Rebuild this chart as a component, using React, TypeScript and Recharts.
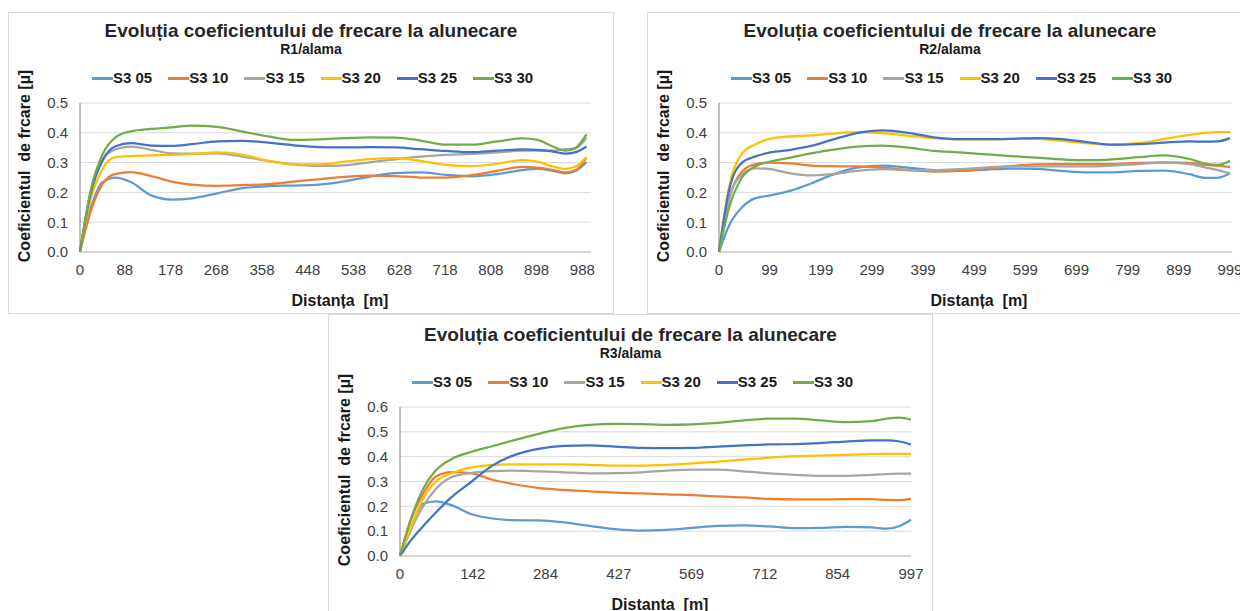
import React from 'react';
import { LineChart, Line, XAxis, YAxis, CartesianGrid, Legend } from 'recharts';

const SERIES = ['S3 05', 'S3 10', 'S3 15', 'S3 20', 'S3 25', 'S3 30'];
const COLORS = ['#5B9BD5', '#ED7D31', '#A5A5A5', '#FFC000', '#4472C4', '#70AD47'];

// R1/alama
const r1Dist = [0, 20, 45, 70, 100, 140, 180, 220, 270, 320, 370, 420, 470, 520, 570, 620, 670, 720, 770, 820, 870, 900, 930, 955, 975, 996];
const r1S305 = [0, 0.14, 0.235, 0.25, 0.235, 0.19, 0.176, 0.18, 0.197, 0.214, 0.221, 0.223, 0.226, 0.237, 0.253, 0.265, 0.267, 0.259, 0.254, 0.261, 0.275, 0.279, 0.272, 0.264, 0.272, 0.301];
const r1S310 = [0, 0.13, 0.23, 0.262, 0.268, 0.255, 0.236, 0.226, 0.222, 0.224, 0.228, 0.236, 0.244, 0.252, 0.256, 0.255, 0.25, 0.25, 0.258, 0.272, 0.286, 0.283, 0.275, 0.267, 0.275, 0.315];
const r1S315 = [0, 0.19, 0.31, 0.345, 0.354, 0.343, 0.331, 0.33, 0.331, 0.32, 0.306, 0.294, 0.289, 0.291, 0.301, 0.311, 0.32, 0.326, 0.329, 0.334, 0.34, 0.34, 0.34, 0.345, 0.348, 0.384];
const r1S320 = [0, 0.17, 0.28, 0.318, 0.322, 0.324, 0.326, 0.329, 0.334, 0.326, 0.306, 0.294, 0.294, 0.303, 0.312, 0.315, 0.306, 0.292, 0.288, 0.296, 0.308, 0.303, 0.287, 0.279, 0.287, 0.319];
const r1S325 = [0, 0.19, 0.31, 0.355, 0.365, 0.357, 0.356, 0.362, 0.371, 0.373, 0.367, 0.358, 0.352, 0.351, 0.352, 0.351, 0.345, 0.339, 0.335, 0.34, 0.344, 0.343, 0.337, 0.33, 0.335, 0.354];
const r1S330 = [0, 0.2, 0.33, 0.385, 0.405, 0.413, 0.418, 0.424, 0.42, 0.404, 0.388, 0.376, 0.378, 0.382, 0.385, 0.384, 0.374, 0.36, 0.36, 0.371, 0.381, 0.376, 0.354, 0.34, 0.35, 0.395];

// R2/alama
const r2Dist = [0, 20, 45, 70, 100, 140, 180, 220, 270, 320, 370, 420, 470, 520, 570, 620, 670, 720, 770, 820, 870, 920, 950, 975, 999];
const r2S305 = [0, 0.09, 0.15, 0.18, 0.19, 0.206, 0.23, 0.258, 0.283, 0.29, 0.283, 0.275, 0.273, 0.276, 0.28, 0.279, 0.272, 0.267, 0.267, 0.272, 0.273, 0.261, 0.249, 0.249, 0.264];
const r2S310 = [0, 0.18, 0.27, 0.294, 0.3, 0.297, 0.29, 0.288, 0.287, 0.283, 0.275, 0.27, 0.272, 0.279, 0.288, 0.294, 0.295, 0.295, 0.295, 0.299, 0.301, 0.299, 0.292, 0.29, 0.285];
const r2S315 = [0, 0.18, 0.26, 0.281, 0.278, 0.264, 0.257, 0.261, 0.272, 0.278, 0.275, 0.275, 0.278, 0.283, 0.287, 0.287, 0.287, 0.287, 0.29, 0.295, 0.3, 0.295, 0.284, 0.275, 0.264];
const r2S320 = [0, 0.22, 0.33, 0.36, 0.38, 0.388, 0.391, 0.397, 0.402, 0.399, 0.39, 0.382, 0.378, 0.378, 0.38, 0.38, 0.373, 0.365, 0.36, 0.365, 0.379, 0.393, 0.4, 0.402, 0.402];
const r2S325 = [0, 0.21, 0.3, 0.32, 0.334, 0.343, 0.356, 0.376, 0.399, 0.408, 0.4, 0.385, 0.379, 0.379, 0.38, 0.382, 0.379, 0.369, 0.36, 0.362, 0.367, 0.371, 0.37, 0.371, 0.382];
const r2S330 = [0, 0.15, 0.25, 0.287, 0.303, 0.317, 0.331, 0.343, 0.354, 0.357, 0.35, 0.339, 0.334, 0.328, 0.322, 0.317, 0.311, 0.308, 0.311, 0.318, 0.324, 0.312, 0.297, 0.292, 0.306];

// R3/alama
const r3Dist = [0, 20, 45, 70, 100, 140, 180, 220, 270, 320, 370, 420, 470, 520, 570, 620, 670, 720, 770, 820, 870, 920, 950, 975, 997];
const r3S305 = [0, 0.11, 0.21, 0.22, 0.205, 0.168, 0.151, 0.144, 0.143, 0.135, 0.121, 0.108, 0.102, 0.105, 0.113, 0.121, 0.123, 0.119, 0.112, 0.113, 0.117, 0.115, 0.11, 0.121, 0.146];
const r3S310 = [0, 0.14, 0.25, 0.32, 0.338, 0.333, 0.307, 0.29, 0.274, 0.266, 0.26, 0.255, 0.252, 0.248, 0.245, 0.24, 0.236, 0.23, 0.228, 0.228, 0.229, 0.229, 0.226, 0.225, 0.23];
const r3S315 = [0, 0.1, 0.2, 0.27, 0.317, 0.335, 0.342, 0.344, 0.341, 0.337, 0.333, 0.334, 0.337, 0.344, 0.348, 0.348, 0.341, 0.333, 0.327, 0.323, 0.323, 0.327, 0.33, 0.332, 0.332];
const r3S320 = [0, 0.11, 0.23, 0.3, 0.333, 0.357, 0.367, 0.369, 0.369, 0.369, 0.367, 0.364, 0.364, 0.367, 0.373, 0.38, 0.388, 0.396, 0.402, 0.404, 0.407, 0.41, 0.411, 0.411, 0.411];
const r3S325 = [0, 0.06, 0.12, 0.175, 0.236, 0.3, 0.364, 0.404, 0.431, 0.443, 0.445, 0.44, 0.435, 0.434, 0.435, 0.44, 0.445, 0.449, 0.451, 0.455, 0.461, 0.466, 0.466, 0.461, 0.449];
const r3S330 = [0, 0.14, 0.27, 0.345, 0.39, 0.42, 0.442, 0.465, 0.492, 0.515, 0.528, 0.532, 0.531, 0.528, 0.53, 0.536, 0.546, 0.553, 0.553, 0.546, 0.539, 0.543, 0.553, 0.557, 0.549];

const r1Ticks = [0, 88, 178, 268, 358, 448, 538, 628, 718, 808, 898, 988];
const r2Ticks = [0, 99, 199, 299, 399, 499, 599, 699, 799, 899, 999];
const r3Ticks = [0, 142, 284, 427, 569, 712, 854, 997];
const yTicks5 = [0, 0.1, 0.2, 0.3, 0.4, 0.5];
const yTicks6 = [0, 0.1, 0.2, 0.3, 0.4, 0.5, 0.6];

const TITLE = 'Evoluția coeficientului de frecare la alunecare';
const Y_LABEL = 'Coeficientul\u00a0 de frcare [µ]';

function buildRows(dist: number[], cols: number[][]) {
  return dist.map((d, i) => {
    const row: any = { d };
    SERIES.forEach((s, k) => {
      row[s] = cols[k][i];
    });
    return row;
  });
}

const renderLegend = (props: any) => {
  const { payload } = props;
  return (
    <div style={{ display: 'flex', paddingLeft: 84, height: 20, alignItems: 'center' }}>
      {(payload || []).map((p: any) => (
        <div key={p.value} style={{ display: 'flex', alignItems: 'center', marginRight: 16 }}>
          <span style={{ display: 'inline-block', width: 21, height: 3, background: p.color }} />
          <span style={{ fontWeight: 'bold', fontSize: 15, color: '#1a1a1a', lineHeight: '20px' }}>{p.value}</span>
        </div>
      ))}
    </div>
  );
};

interface PanelProps {
  left: number;
  top: number;
  width: number;
  height: number;
  shift?: number;
  subtitle: string;
  xLabel: string;
  data: any[];
  xMax: number;
  xTicks: number[];
  yMax: number;
  yTicks: number[];
  marginRight: number;
}

const Panel: React.FC<PanelProps> = ({ left, top, width, height, shift = 0, subtitle, xLabel, data, xMax, xTicks, yMax, yTicks, marginRight }) => {
  return (
    <div style={{ position: 'absolute', left, top, width, height }}>
      <div
        style={{
          position: 'absolute', left: 0, top: -shift, width, height: height + shift,
          border: '1px solid #d9d9d9', boxSizing: 'border-box',
        }}
      />
      <div style={{ position: 'absolute', left: 0, top: 0 }}>
        <LineChart width={width} height={height} data={data} margin={{ top: 91, right: marginRight, bottom: 32, left: 12 }}>
          <CartesianGrid vertical={false} stroke="#d9d9d9" />
          <XAxis
            dataKey="d"
            type="number"
            domain={[0, xMax]}
            ticks={xTicks}
            interval={0}
            tickLine={false}
            axisLine={{ stroke: '#bfbfbf' }}
            tick={{ fill: '#404040', fontSize: 15 }}
            tickMargin={6}
            height={30}
          />
          <YAxis
            domain={[0, yMax]}
            ticks={yTicks}
            tickFormatter={(v: number) => v.toFixed(1)}
            tickLine={false}
            axisLine={{ stroke: '#7f7f7f' }}
            tick={{ fill: '#404040', fontSize: 15 }}
            tickMargin={6}
            width={60}
          />
          <Legend
            verticalAlign="middle"
            align="center"
            layout="horizontal"
            content={renderLegend}
            wrapperStyle={{ top: 56, left: 0, width, height: 20 }}
          />
          {SERIES.map((s, k) => (
            <Line
              key={s}
              type="monotone"
              dataKey={s}
              stroke={COLORS[k]}
              strokeWidth={2.25}
              dot={false}
              isAnimationActive={false}
            />
          ))}
        </LineChart>
      </div>
      <div style={{ position: 'absolute', left: 0, top: 9, width, textAlign: 'center', fontSize: 19, lineHeight: '19px', fontWeight: 'bold', color: '#262626', whiteSpace: 'nowrap' }}>
        {TITLE}
      </div>
      <div style={{ position: 'absolute', left: 0, top: 30, width, textAlign: 'center', fontSize: 14, lineHeight: '14px', fontWeight: 'bold', color: '#1a1a1a' }}>
        {subtitle}
      </div>
      <div
        style={{
          position: 'absolute', left: 16.5, top: 154, transform: 'translate(-50%, -50%) rotate(-90deg)',
          whiteSpace: 'nowrap', fontSize: 16, lineHeight: '16px', fontWeight: 'bold', color: '#1a1a1a',
        }}
      >
        {Y_LABEL}
      </div>
      <div
        style={{
          position: 'absolute', left: 332, top: 281, transform: 'translateX(-50%)',
          whiteSpace: 'nowrap', fontSize: 16, lineHeight: '16px', fontWeight: 'bold', color: '#1a1a1a',
        }}
      >
        {xLabel}
      </div>
    </div>
  );
};

export default function App() {
  const r1Data = buildRows(r1Dist, [r1S305, r1S310, r1S315, r1S320, r1S325, r1S330]);
  const r2Data = buildRows(r2Dist, [r2S305, r2S310, r2S315, r2S320, r2S325, r2S330]);
  const r3Data = buildRows(r3Dist, [r3S305, r3S310, r3S315, r3S320, r3S325, r3S330]);

  return (
    <div
      style={{
        position: 'absolute', left: 0, top: 0, width: 1240, height: 611, overflow: 'hidden',
        background: '#fff', fontFamily: '"Liberation Sans", Arial, sans-serif',
      }}
    >
      <Panel
        left={8} top={12} width={606} height={302}
        subtitle="R1/alama" xLabel={'Distanța\u00a0 [m]'}
        data={r1Data} xMax={1005} xTicks={r1Ticks} yMax={0.5} yTicks={yTicks5} marginRight={23}
      />
      <Panel
        left={647} top={12} width={606} height={302}
        subtitle="R2/alama" xLabel={'Distanța\u00a0 [m]'}
        data={r2Data} xMax={1003} xTicks={r2Ticks} yMax={0.5} yTicks={yTicks5} marginRight={21}
      />
      <Panel
        left={328} top={316} width={605} height={302} shift={2}
        subtitle="R3/alama" xLabel={'Distanta\u00a0 [m]'}
        data={r3Data} xMax={997} xTicks={r3Ticks} yMax={0.6} yTicks={yTicks6} marginRight={22}
      />
    </div>
  );
}
